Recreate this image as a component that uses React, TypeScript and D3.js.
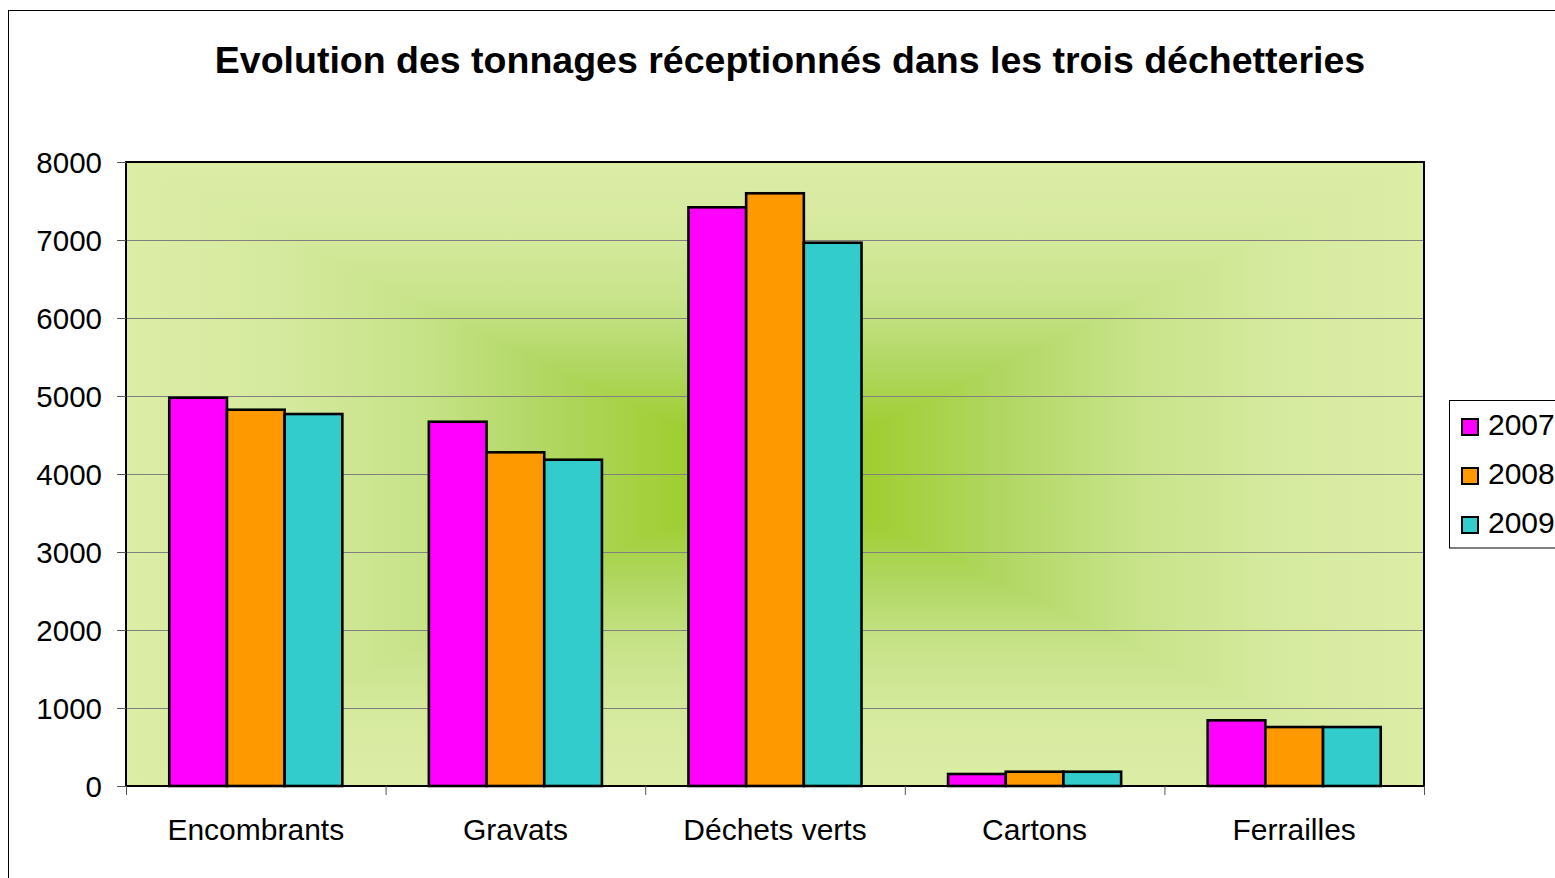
import React from "react";
import * as d3 from "d3";

const categories = ["Encombrants", "Gravats", "Déchets verts", "Cartons", "Ferrailles"];
const seriesNames = ["2007", "2008", "2009"];
const values2007 = [4978, 4670, 7419, 154, 842];
const values2008 = [4824, 4278, 7599, 183, 756];
const values2009 = [4769, 4183, 6965, 183, 756];
const seriesColors = ["#FF00FF", "#FF9900", "#33CCCC"];
const yTicks = [0, 1000, 2000, 3000, 4000, 5000, 6000, 7000, 8000];
const title = "Evolution des tonnages réceptionnés dans les trois déchetteries";

const W = 1555;
const H = 878;
const X0 = 126;
const X1 = 1424;
const Y0 = 162;
const Y1 = 786;
const FONT = "'Liberation Sans', Arial, sans-serif";

// gradient profile: t = 0 at centre, 1 at edge
const gradStops: [number, string][] = [
  [0, "#99ca27"],
  [0.15, "#a0ce33"],
  [0.35, "#b1d762"],
  [0.55, "#c7e389"],
  [0.78, "#d6ea9f"],
  [1, "#dcedа6".replace("а", "a")],
];

function mirroredStops() {
  const s: [number, string][] = [];
  for (let i = gradStops.length - 1; i >= 0; i--) s.push([0.5 - gradStops[i][0] / 2, gradStops[i][1]]);
  for (let i = 1; i < gradStops.length; i++) s.push([0.5 + gradStops[i][0] / 2, gradStops[i][1]]);
  return s;
}

export default function App() {
  const allSeries = [values2007, values2008, values2009];
  const x = d3.scaleBand<string>().domain(categories).range([X0, X1]).padding(0);
  const bw = x.bandwidth();
  const barW = bw / 4.5;
  const inner = d3
    .scaleBand<string>()
    .domain(seriesNames)
    .range([barW * 0.75, bw - barW * 0.75])
    .padding(0);
  const y = d3.scaleLinear().domain([0, 8000]).range([Y1, Y0]);
  const cx = (X0 + X1) / 2;
  const cy = (Y0 + Y1) / 2;
  const stops = mirroredStops();

  return (
    <svg
      width={W}
      height={H}
      style={{ position: "absolute", left: 0, top: 0, display: "block", background: "#fff" }}
    >
      <defs>
        <linearGradient id="gv" gradientUnits="userSpaceOnUse" x1={0} y1={Y0} x2={0} y2={Y1}>
          {stops.map((s, i) => (
            <stop key={i} offset={s[0]} stopColor={s[1]} />
          ))}
        </linearGradient>
        <linearGradient id="gh" gradientUnits="userSpaceOnUse" x1={X0} y1={0} x2={X1} y2={0}>
          {stops.map((s, i) => (
            <stop key={i} offset={s[0]} stopColor={s[1]} />
          ))}
        </linearGradient>
      </defs>

      {/* outer chart border */}
      <rect x={8.5} y={10.5} width={1600} height={900} fill="#fff" stroke="#000" strokeWidth={1} />

      {/* title */}
      <text
        x={790}
        y={73}
        textAnchor="middle"
        fontFamily={FONT}
        fontWeight="bold"
        fontSize={37.5}
        fill="#000"
      >
        {title}
      </text>

      {/* plot background: rectangular gradient from centre */}
      <rect x={X0} y={Y0} width={X1 - X0} height={Y1 - Y0} fill="url(#gv)" />
      <polygon points={`${X0},${Y0} ${cx},${cy} ${X0},${Y1}`} fill="url(#gh)" />
      <polygon points={`${X1},${Y0} ${cx},${cy} ${X1},${Y1}`} fill="url(#gh)" />

      {/* gridlines */}
      {yTicks
        .filter((t) => t > 0 && t < 8000)
        .map((t) => (
          <line key={t} x1={X0} x2={X1} y1={y(t) + 0.5} y2={y(t) + 0.5} stroke="#808080" strokeWidth={1.2} />
        ))}

      {/* bars */}
      {categories.map((c, ci) => (
        <g key={c} transform={`translate(${x(c)},0)`}>
          {seriesNames.map((s, si) => (
            <rect
              key={s}
              x={inner(s)}
              y={y(allSeries[si][ci])}
              width={inner.bandwidth()}
              height={Y1 - y(allSeries[si][ci])}
              fill={seriesColors[si]}
              stroke="#000"
              strokeWidth={2.6}
            />
          ))}
        </g>
      ))}

      {/* plot border */}
      <rect x={X0} y={Y0} width={X1 - X0} height={Y1 - Y0} fill="none" stroke="#000" strokeWidth={2} />

      {/* y ticks and labels */}
      {yTicks.map((t) => (
        <g key={t}>
          <line x1={117} x2={X0} y1={y(t) + 0.5} y2={y(t) + 0.5} stroke="#555" strokeWidth={1} />
          <text x={102} y={y(t) + 10.5} textAnchor="end" fontFamily={FONT} fontSize={29.5} fill="#000">
            {t}
          </text>
        </g>
      ))}

      {/* x ticks */}
      {[...categories.map((c) => x(c) as number), X1].map((v, i) => (
        <line key={i} x1={v + 0.5} x2={v + 0.5} y1={Y1} y2={795} stroke="#555" strokeWidth={1} />
      ))}

      {/* x labels */}
      {categories.map((c) => (
        <text
          key={c}
          x={(x(c) as number) + bw / 2}
          y={840}
          textAnchor="middle"
          fontFamily={FONT}
          fontSize={30}
          fill="#000"
        >
          {c}
        </text>
      ))}

      {/* legend */}
      <rect x={1449.5} y={400.5} width={200} height={147.5} fill="#fff" stroke="#000" strokeWidth={1} />
      {seriesNames.map((s, i) => {
        const yc = 427 + i * 49;
        return (
          <g key={s}>
            <rect x={1462} y={yc - 8} width={16} height={16} fill={seriesColors[i]} stroke="#000" strokeWidth={2} />
            <text x={1488} y={yc + 8} fontFamily={FONT} fontSize={30} fill="#000">
              {s}
            </text>
          </g>
        );
      })}
    </svg>
  );
}
